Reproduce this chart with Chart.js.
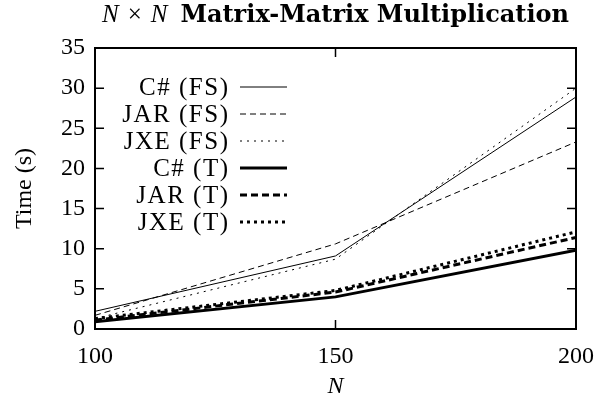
<!DOCTYPE html>
<html>
<head>
<meta charset="utf-8">
<script src="https://cdn.jsdelivr.net/npm/chart.js@4"></script>
<style>
  html, body { margin: 0; padding: 0; background: #fff; }
  #wrap { width: 607px; height: 401px; }
</style>
</head>
<body>
<div id="wrap"><canvas id="myChart"></canvas></div>
<script>
const sizes = [100, 150, 200];
const xTicks = [100, 150, 200];
const yTicks = [0, 5, 10, 15, 20, 25, 30, 35];

const csFS = [2.2, 9.1, 28.9];
const jarFS = [1.7, 10.6, 23.3];
const jxeFS = [1.3, 8.7, 30.0];
const csT = [0.9, 4.0, 9.8];
const jarT = [1.1, 4.6, 11.4];
const jxeT = [1.3, 4.8, 12.1];

const serif = "'Liberation Serif', 'DejaVu Serif', serif";

function series(label, values, width, dash) {
    return {
        label: label,
        data: sizes.map((x, i) => ({ x: x, y: values[i] })),
        borderColor: "#000",
        borderWidth: width,
        borderDash: dash,
        pointRadius: 0,
        tension: 0,
        fill: false
    };
}

// frame, inward ticks, title and the legend, drawn the gnuplot way
const frame = {
    id: "frame",
    afterDatasetsDraw(chart) {
        const c = chart.ctx;
        const a = chart.chartArea;
        const xs = chart.scales.x, ys = chart.scales.y;
        c.save();
        c.strokeStyle = "#000";
        c.fillStyle = "#000";
        c.lineWidth = 1.5;
        c.setLineDash([]);
        yTicks.forEach(v => {
            const y = ys.getPixelForValue(v);
            c.beginPath();
            c.moveTo(a.left, y); c.lineTo(a.left + 9, y);
            c.moveTo(a.right, y); c.lineTo(a.right - 9, y);
            c.stroke();
        });
        xTicks.forEach(v => {
            const x = xs.getPixelForValue(v);
            c.beginPath();
            c.moveTo(x, a.bottom); c.lineTo(x, a.bottom - 9);
            c.moveTo(x, a.top); c.lineTo(x, a.top + 9);
            c.stroke();
        });
        c.lineWidth = 2;
        c.strokeRect(a.left, a.top, a.right - a.left, a.bottom - a.top);

        // title: italic N, times sign, bold words
        const parts = [
            ["italic 25px " + serif, "N", 9],
            ["25px " + serif, "×", 9],
            ["italic 25px " + serif, "N", 13],
            ["bold 24px 'DejaVu Serif', serif", "Matrix-Matrix Multiplication", 0]
        ];
        let total = 0;
        parts.forEach(p => { c.font = p[0]; total += c.measureText(p[1]).width + p[2]; });
        let tx = (a.left + a.right) / 2 - total / 2;
        c.textAlign = "left";
        c.textBaseline = "alphabetic";
        parts.forEach(p => {
            c.font = p[0];
            c.fillText(p[1], tx, 22);
            tx += c.measureText(p[1]).width + p[2];
        });

        // legend
        c.font = "25px " + serif;
        c.letterSpacing = "1.5px";
        c.textAlign = "right";
        c.textBaseline = "middle";
        chart.data.datasets.forEach((ds, i) => {
            const y = 87 + i * 27;
            c.fillText(ds.label, 229.5, y + 1);
            c.beginPath();
            c.lineWidth = ds.borderWidth;
            c.setLineDash(ds.borderDash || []);
            c.moveTo(240, y); c.lineTo(287, y);
            c.stroke();
        });
        c.restore();
    }
};

const ctx = document.getElementById("myChart").getContext("2d");
new Chart(ctx, {
    type: "line",
    data: {
        datasets: [
            series("C# (FS)", csFS, 1, []),
            series("JAR (FS)", jarFS, 1, [6, 4]),
            series("JXE (FS)", jxeFS, 1, [2, 5]),
            series("C# (T)", csT, 3, []),
            series("JAR (T)", jarT, 3, [7, 4]),
            series("JXE (T)", jxeT, 3, [3, 4])
        ]
    },
    plugins: [frame],
    options: {
        responsive: true,
        maintainAspectRatio: false,
        animation: false,
        layout: { padding: { left: 0, right: 27, top: 48, bottom: 0 } },
        plugins: {
            legend: { display: false },
            tooltip: { enabled: false },
            title: { display: false }
        },
        scales: {
            x: {
                type: "linear",
                min: 100,
                max: 200,
                afterFit: s => { s.height = 72; },
                afterBuildTicks: s => { s.ticks = xTicks.map(v => ({ value: v })); },
                grid: { display: false, drawTicks: false },
                border: { display: false },
                ticks: { color: "#000", font: { family: serif, size: 24 }, padding: 13, maxRotation: 0 },
                title: {
                    display: true,
                    text: "N",
                    color: "#000",
                    font: { family: serif, size: 24, style: "italic" },
                    padding: { top: 2, bottom: 0 }
                }
            },
            y: {
                min: 0,
                max: 35,
                afterFit: s => { s.width = 95; },
                afterBuildTicks: s => { s.ticks = yTicks.map(v => ({ value: v })); },
                grid: { display: false, drawTicks: false },
                border: { display: false },
                ticks: { color: "#000", font: { family: serif, size: 24 }, padding: 10 },
                title: {
                    display: true,
                    text: "Time (s)",
                    color: "#000",
                    font: { family: serif, size: 24 },
                    padding: { top: 10, bottom: 0 }
                }
            }
        }
    }
});
</script>
</body>
</html>
